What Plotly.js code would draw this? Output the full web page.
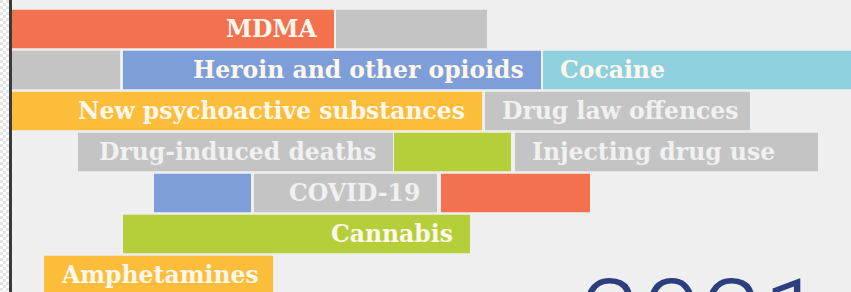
<!DOCTYPE html>
<html>
<head>
<meta charset="utf-8">
<script src="https://cdn.plot.ly/plotly-3.0.1.min.js"></script>
<style>
  html, body { margin: 0; padding: 0; }
  body {
    width: 851px; height: 292px; overflow: hidden;
    background: repeating-conic-gradient(#ffffff 0 25%, #e4e4e4 0 50%) 0 0 / 6px 6px;
  }
  #chart { width: 851px; height: 292px; }
</style>
</head>
<body>
<div id="chart"></div>
<script>
// ---- data: one entry per bar segment ----
const segRow   = [0, 0, 1, 1, 1, 2, 2, 3, 3, 3, 4, 4, 4, 5, 6];
const segStart = [10, 336, 10, 123, 543, 10, 485, 78, 394, 515, 154, 254, 441, 123, 44];
const segEnd   = [334, 487, 120, 541, 860, 482, 750, 393, 511, 818, 251, 437, 590, 470, 273];
const segLabel = ['MDMA', '', '', 'Heroin and other opioids', 'Cocaine',
                  'New psychoactive substances', 'Drug law offences',
                  'Drug-induced deaths', '', 'Injecting drug use',
                  '', 'COVID-19', '', 'Cannabis', 'Amphetamines'];
const segTheme = ['orange', 'grey', 'grey', 'blue', 'cyan', 'yellow', 'grey',
                  'grey', 'green', 'grey', 'blue', 'grey', 'orange', 'green', 'yellow'];
const segAlign = ['right', '', '', 'right', 'left', 'right', 'left',
                  'right', '', 'left', '', 'right', '', 'right', 'left'];
const yearText = '2021';

// ---- styles ----
const palette = {
  orange: '#f2714f', grey: '#c4c4c4', blue: '#7d9ed8', cyan: '#8fd0df',
  yellow: '#fcbd3b', green: '#b5cf3a'
};
const textCol = { grey: '#f1f1f1' };
const pad = 16;
const rowPx = 41, row0Px = 29, H = 292, W = 851;
const pxToY = p => (p - row0Px) / rowPx;

const trace = {
  type: 'bar',
  orientation: 'h',
  y: segRow,
  base: segStart,
  x: segEnd.map((e, i) => e - segStart[i]),
  width: 0.94,
  marker: { color: segTheme.map(t => palette[t]), line: { width: 0 } },
  hoverinfo: 'skip',
  showlegend: false
};

const annotations = [];
segLabel.forEach((lab, i) => {
  if (!lab) return;
  const right = segAlign[i] === 'right';
  annotations.push({
    x: right ? segEnd[i] - pad : segStart[i] + pad,
    y: segRow[i],
    xref: 'x', yref: 'y',
    xanchor: right ? 'right' : 'left',
    yanchor: 'middle',
    text: lab,
    showarrow: false,
    borderpad: 0,
    font: { family: 'DejaVu Serif', size: 23.5, weight: 'bold',
            color: textCol[segTheme[i]] || '#fdf7ec' }
  });
});
annotations.push({
  x: 579, y: pxToY(254), xref: 'x', yref: 'y',
  xanchor: 'left', yanchor: 'top',
  text: yearText, showarrow: false, borderpad: 0,
  font: { family: 'Roboto', size: 110, weight: 300, color: '#2b3f7e' }
});

const layout = {
  width: W, height: H,
  margin: { l: 0, r: 0, t: 0, b: 0 },
  paper_bgcolor: 'rgba(0,0,0,0)',
  plot_bgcolor: 'rgba(0,0,0,0)',
  barmode: 'overlay',
  xaxis: { range: [0, W], visible: false, fixedrange: true },
  yaxis: { range: [pxToY(H), pxToY(0)], visible: false, fixedrange: true },
  shapes: [
    { type: 'rect', xref: 'x', yref: 'paper', x0: 9, x1: W, y0: 0, y1: 1,
      fillcolor: '#efefef', line: { width: 0 }, layer: 'below' },
    { type: 'rect', xref: 'x', yref: 'paper', x0: 9, x1: 12, y0: 0, y1: 1,
      fillcolor: '#3b3b3d', line: { width: 0 }, layer: 'above' }
  ],
  annotations: annotations
};

Plotly.newPlot('chart', [trace], layout, { staticPlot: true, displayModeBar: false });
</script>
</body>
</html>
